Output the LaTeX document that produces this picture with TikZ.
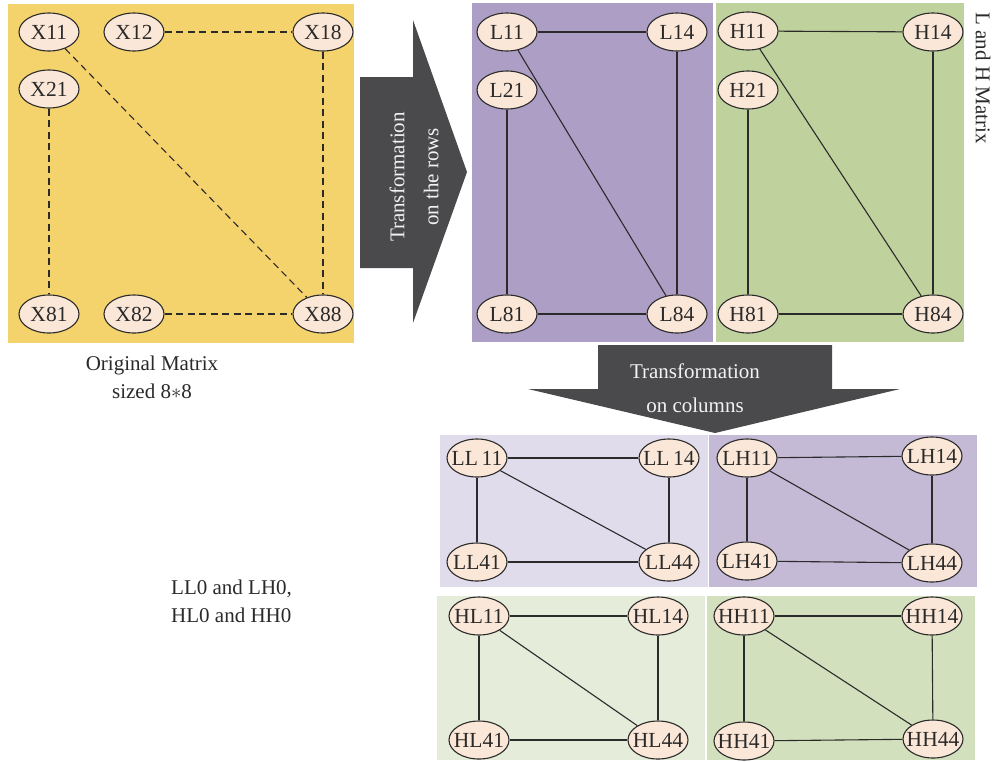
\documentclass[tikz,border=0pt]{standalone}
\usepackage{fontspec}
\setmainfont{Liberation Serif}
\usetikzlibrary{shapes.geometric}

\definecolor{yellowbg}{HTML}{F5D36C}
\definecolor{purplebg}{HTML}{AC9EC4}
\definecolor{greenbg}{HTML}{BFD19C}
\definecolor{llbg}{HTML}{E0DCEB}
\definecolor{lhbg}{HTML}{C5BAD6}
\definecolor{hlbg}{HTML}{E5ECDA}
\definecolor{hhbg}{HTML}{D3E0BD}
\definecolor{nodefill}{HTML}{FBE7D7}
\definecolor{linec}{HTML}{2B2B2B}
\definecolor{arrowc}{HTML}{4A4A4C}
\definecolor{arrowtext}{HTML}{F2F2F2}
\definecolor{textc}{HTML}{2A2A2A}

\newcommand\nodefont{\fontsize{21.5}{24}\selectfont}
\newcommand\celltext[1]{\makebox[0pt]{#1}}

\tikzset{
  mnode/.style={ellipse, draw=linec, line width=1.1pt, fill=nodefill,
    minimum width=60pt, minimum height=38pt, inner sep=0pt,
    font=\nodefont, text=textc},
  link/.style={draw=linec, line width=1.1pt},
  dlink/.style={link, dash pattern=on 7pt off 4.5pt},
  bigarrow/.style={fill=arrowc, draw=none},
  arrowlabel/.style={font=\fontsize{21}{34}\selectfont, text=arrowtext,
    align=center, inner sep=0pt},
  caption/.style={font=\fontsize{21}{28}\selectfont, text=textc, inner sep=0pt}
}

\begin{document}
\begin{tikzpicture}[x=1pt,y=-1pt]
\useasboundingbox (0,0) rectangle (998,761);
\fill[white] (0,0) rectangle (998,761);

% panels
\fill[yellowbg] (8,4) rectangle (354,343);
\fill[purplebg] (472,3) rectangle (713,342);
\fill[greenbg] (716,3) rectangle (964,342);
\fill[llbg] (440,435) rectangle (708,587);
\fill[lhbg] (709,435) rectangle (977,587);
\fill[hlbg] (437,596) rectangle (705,760);
\fill[hhbg] (707,596) rectangle (975,760);

% arrows
\fill[bigarrow] (360,77) -- (413,77) -- (413,20) -- (467,172) -- (413,323)
  -- (413,268) -- (360,268) -- cycle;
\fill[bigarrow] (598,345) -- (832,345) -- (832,389) -- (900,389) -- (715,433)
  -- (528,389) -- (598,389) -- cycle;

\node[arrowlabel, rotate=90] (rowlbl) at (414,177) {Transformation\\on the rows};
\node[arrowlabel] (collbl) at (695,388) {Transformation\\on columns};

% captions
\node[caption, align=center] (orig) at (152,377) {Original Matrix\\sized 8$*$8};
\node[caption, align=left, anchor=west] (sub) at (171,601) {LL0 and LH0,\\HL0 and HH0};
\node[caption, rotate=-90] (lh) at (983,78) {L and H Matrix};

% original matrix
\node[mnode] (X11) at (49,32) {\celltext{X11}};
\node[mnode] (X12) at (134,32) {\celltext{X12}};
\node[mnode] (X18) at (323,32) {\celltext{X18}};
\node[mnode] (X21) at (49,89) {\celltext{X21}};
\node[mnode] (X81) at (49,314) {\celltext{X81}};
\node[mnode] (X82) at (134,314) {\celltext{X82}};
\node[mnode] (X88) at (323,314) {\celltext{X88}};
\draw[dlink] (X11) -- (X88);
\draw[dlink] (X12) -- (X18);
\draw[dlink] (X18) -- (X88);
\draw[dlink] (X21) -- (X81);
\draw[dlink] (X82) -- (X88);

% L matrix
\node[mnode] (L11) at (507,32) {\celltext{L11}};
\node[mnode] (L14) at (677,32) {\celltext{L14}};
\node[mnode] (L21) at (507,90) {\celltext{L21}};
\node[mnode] (L81) at (507,314) {\celltext{L81}};
\node[mnode] (L84) at (677,314) {\celltext{L84}};
\draw[link] (L11) -- (L14);
\draw[link] (L11) -- (L84);
\draw[link] (L14) -- (L84);
\draw[link] (L21) -- (L81);
\draw[link] (L81) -- (L84);

% H matrix
\node[mnode] (H11) at (748,31) {\celltext{H11}};
\node[mnode] (H14) at (933,32) {\celltext{H14}};
\node[mnode] (H21) at (748,90) {\celltext{H21}};
\node[mnode] (H81) at (748,314) {\celltext{H81}};
\node[mnode] (H84) at (933,314) {\celltext{H84}};
\draw[link] (H11) -- (H14);
\draw[link] (H11) -- (H84);
\draw[link] (H14) -- (H84);
\draw[link] (H21) -- (H81);
\draw[link] (H81) -- (H84);

% LL sub-band
\node[mnode] (LL11) at (477,458) {\celltext{LL\,11}};
\node[mnode] (LL14) at (669,458) {\celltext{LL\,14}};
\node[mnode] (LL41) at (477,562) {\celltext{LL41}};
\node[mnode] (LL44) at (669,562) {\celltext{LL44}};
\draw[link] (LL11) -- (LL14);
\draw[link] (LL11) -- (LL41);
\draw[link] (LL11) -- (LL44);
\draw[link] (LL14) -- (LL44);
\draw[link] (LL41) -- (LL44);

% LH sub-band
\node[mnode] (LH11) at (747,458) {\celltext{LH11}};
\node[mnode] (LH14) at (932,456) {\celltext{LH14}};
\node[mnode] (LH41) at (747,561) {\celltext{LH41}};
\node[mnode] (LH44) at (932,563) {\celltext{LH44}};
\draw[link] (LH11) -- (LH14);
\draw[link] (LH11) -- (LH41);
\draw[link] (LH11) -- (LH44);
\draw[link] (LH14) -- (LH44);
\draw[link] (LH41) -- (LH44);

% HL sub-band
\node[mnode] (HL11) at (479,616) {\celltext{HL11}};
\node[mnode] (HL14) at (658,616) {\celltext{HL14}};
\node[mnode] (HL41) at (479,740) {\celltext{HL41}};
\node[mnode] (HL44) at (658,740) {\celltext{HL44}};
\draw[link] (HL11) -- (HL14);
\draw[link] (HL11) -- (HL41);
\draw[link] (HL11) -- (HL44);
\draw[link] (HL14) -- (HL44);
\draw[link] (HL41) -- (HL44);

% HH sub-band
\node[mnode] (HH11) at (744,616) {\celltext{HH11}};
\node[mnode] (HH14) at (932,616) {\celltext{HH14}};
\node[mnode] (HH41) at (744,741) {\celltext{HH41}};
\node[mnode] (HH44) at (933,739) {\celltext{HH44}};
\draw[link] (HH11) -- (HH14);
\draw[link] (HH11) -- (HH41);
\draw[link] (HH11) -- (HH44);
\draw[link] (HH14) -- (HH44);
\draw[link] (HH41) -- (HH44);
\end{tikzpicture}
\end{document}
